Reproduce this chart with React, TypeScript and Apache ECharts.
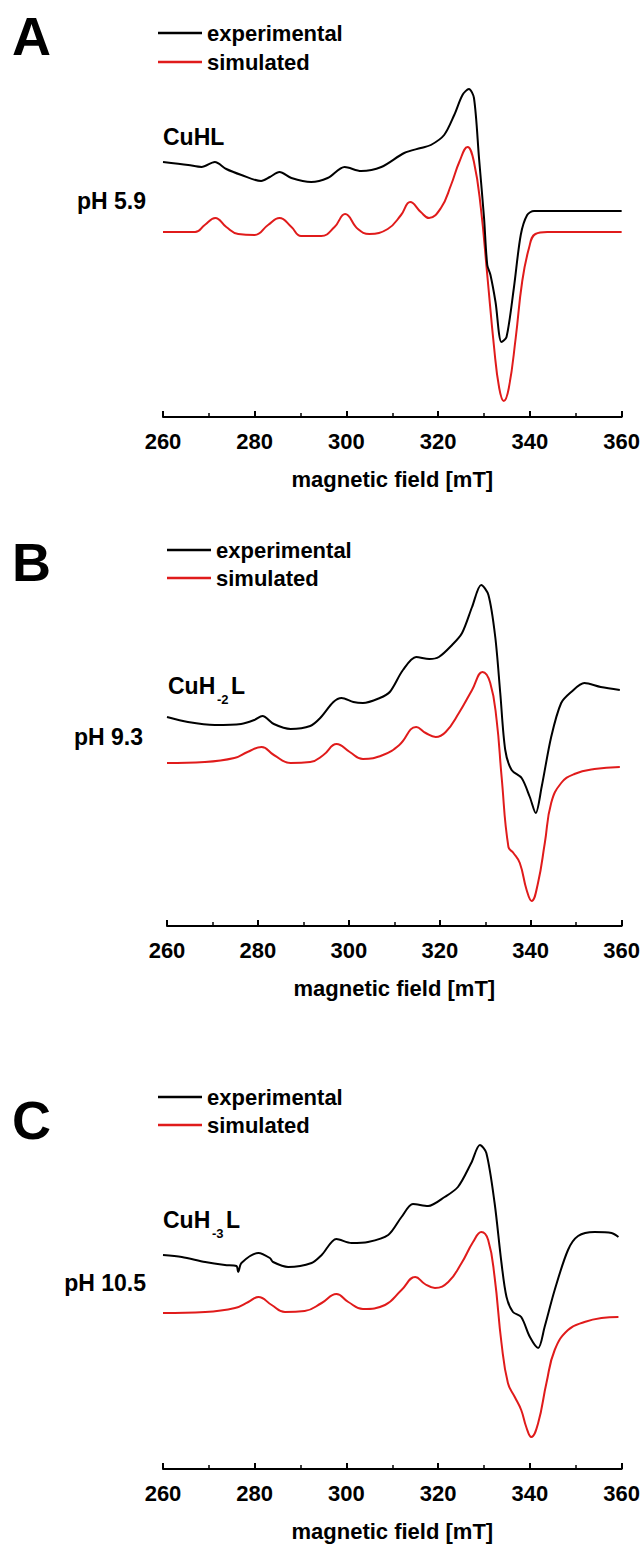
import React, { useEffect, useRef } from "react";
import * as echarts from "echarts";

// Magnetic field (mT) and intensity (a.u., offset)
const A_EXP_FIELD = [260, 265.5, 268.4, 271.3, 273.8, 277.1, 281.4, 283.3, 285.4, 288.0, 292.3, 295.9, 299.6, 303.2, 307.6, 312.6, 316.2, 318.4, 321.3, 323.5, 325.3, 326.7, 327.8, 328.9, 330.0, 330.7, 331.4, 332.5, 333.8, 334.9, 336.5, 338.0, 339.4, 340.9, 360];
const A_EXP_INT = [255, 252, 250, 255, 248, 242, 236, 240, 245, 239, 235, 239, 250, 246, 250, 264, 269, 272, 282, 302, 322, 328, 319, 259, 199, 152, 142, 115, 75, 80, 129, 182, 202, 206, 206];
const A_SIM_FIELD = [260, 267.0, 269.1, 271.4, 273.8, 276.4, 280.0, 282.9, 285.4, 288.0, 290.1, 294.5, 297.4, 299.7, 302.5, 305.0, 309.0, 311.9, 313.9, 316.2, 318.0, 320.6, 322.8, 324.6, 326.4, 327.8, 329.3, 330.7, 332.2, 333.3, 334.3, 335.4, 336.9, 338.3, 339.8, 341.2, 343.8, 360];
const A_SIM_INT = [185, 185, 192, 199, 190, 183, 182, 192, 199, 190, 181, 181, 190, 203, 188, 183, 188, 202, 215, 205, 199, 209, 232, 255, 270, 255, 209, 142, 69, 29, 16, 29, 79, 135, 169, 183, 185, 185];

const B_EXP_FIELD = [260, 264.6, 270.5, 276.3, 279.2, 281.0, 283.5, 287.2, 291.5, 293.7, 296.6, 298.4, 301.0, 303.1, 306.8, 309.0, 311.9, 314.8, 317.7, 319.8, 322.7, 324.9, 327.1, 329.1, 330.7, 332.2, 333.3, 334.4, 335.8, 338.0, 339.8, 341.1, 342.4, 344.5, 346.7, 348.9, 351.8, 355.4, 359.6];
const B_EXP_INT = [209, 204, 201, 202, 206, 210, 202, 197, 200, 208, 224, 228, 224, 223, 228, 234, 256, 269, 267, 269, 281, 293, 319, 341, 331, 289, 233, 176, 156, 148, 129, 113, 139, 189, 223, 234, 243, 239, 236];
const B_SIM_FIELD = [260, 268.3, 274.8, 277.7, 280.8, 283.5, 287.2, 291.5, 294.4, 297.3, 300.2, 303.1, 307.5, 311.1, 314.8, 316.9, 319.1, 321.3, 324.2, 327.1, 329.4, 331.1, 332.5, 333.6, 335.1, 336.2, 337.6, 339.1, 340.2, 341.6, 343.1, 344.5, 346.7, 349.6, 354.0, 359.6];
const B_SIM_INT = [163, 164, 168, 174, 179, 171, 163, 164, 171, 182, 174, 167, 171, 181, 199, 193, 189, 194, 213, 236, 254, 243, 206, 149, 79, 73, 63, 36, 25, 43, 83, 123, 143, 152, 157, 159];

const C_EXP_FIELD = [260, 264.1, 269.2, 273.5, 276.0, 276.4, 277.1, 280.8, 283.3, 284.0, 287.3, 292.4, 294.6, 297.8, 301.1, 304.7, 309.1, 312.0, 314.5, 317.8, 321.4, 324.3, 327.2, 329.1, 330.5, 332.3, 333.8, 334.9, 336.3, 338.1, 340.0, 341.8, 343.2, 345.4, 348.3, 350.5, 354.1, 357.8, 359.3];
const C_EXP_INT = [214, 212, 207, 204, 203, 197, 206, 216, 211, 207, 202, 206, 214, 230, 226, 227, 234, 252, 265, 263, 272, 282, 306, 324, 316, 266, 206, 172, 157, 152, 132, 121, 142, 179, 219, 233, 237, 236, 232];
const C_SIM_FIELD = [260, 269.2, 275.7, 278.6, 280.8, 283.7, 286.6, 290.9, 294.6, 297.8, 300.4, 303.6, 308.4, 312.0, 315.0, 317.1, 319.3, 322.2, 325.1, 327.6, 329.4, 330.9, 332.3, 333.8, 335.2, 336.7, 338.1, 339.2, 340.3, 341.8, 343.6, 345.4, 348.3, 351.9, 355.6, 359.3];
const C_SIM_INT = [156, 157, 161, 167, 172, 164, 157, 158, 166, 175, 167, 160, 164, 179, 192, 185, 181, 187, 206, 227, 237, 229, 192, 126, 86, 72, 59, 42, 32, 46, 86, 119, 139, 147, 151, 152];

const X_TICKS = [260, 280, 300, 320, 340, 360];
const PANEL_LETTERS = ["A", "B", "C"];
const SPECIES = [["CuHL", "", ""], ["CuH", "-2", "L"], ["CuH", "-3", "L"]];
const PH_LABELS = ["pH 5.9", "pH 9.3", "pH 10.5"];
const SERIES_NAMES = ["experimental", "simulated"];

const FONT = "'Liberation Sans', Arial, Helvetica, sans-serif";
const BLACK = "#000000";
const RED = "#e01b1b";

const zip = (xs: number[], ys: number[]) => xs.map((x, i) => [x, ys[i]]);

export default function App() {
  const ref = useRef<HTMLDivElement>(null);
  useEffect(() => {
    if (!ref.current) return;
    const chart = echarts.init(ref.current, null, { renderer: "svg" });

    const grids = [
      { left: 163, width: 460, top: 60, height: 357 },
      { left: 167, width: 459, top: 560, height: 366 },
      { left: 163, width: 459, top: 1100, height: 369 },
    ];
    const legendPos = [
      { left: 158, top: 22, gap: 7 },
      { left: 167, top: 539, gap: 6 },
      { left: 158, top: 1086, gap: 6 },
    ];
    const letterPos = [
      { x: 12, y: 36 },
      { x: 12, y: 562 },
      { x: 12, y: 1120 },
    ];
    const speciesPos = [
      { x: 163, y: 137, sub: 0, l: 0 },
      { x: 168, y: 686, sub: 217, l: 231 },
      { x: 163, y: 1220, sub: 212, l: 226 },
    ];
    const phPos = [
      { x: 146, y: 201 },
      { x: 143, y: 737 },
      { x: 146, y: 1283 },
    ];

    const datasets = [
      [zip(A_EXP_FIELD, A_EXP_INT), zip(A_SIM_FIELD, A_SIM_INT)],
      [zip(B_EXP_FIELD, B_EXP_INT), zip(B_SIM_FIELD, B_SIM_INT)],
      [zip(C_EXP_FIELD, C_EXP_INT), zip(C_SIM_FIELD, C_SIM_INT)],
    ];

    const series: any[] = [];
    datasets.forEach((pair, gi) => {
      series.push({
        name: SERIES_NAMES[0],
        type: "line",
        xAxisIndex: gi,
        yAxisIndex: gi,
        data: pair[0],
        showSymbol: false,
        smooth: 0.3,
        lineStyle: { color: BLACK, width: 2 },
        itemStyle: { color: BLACK },
        z: 3,
      });
      series.push({
        name: SERIES_NAMES[1],
        type: "line",
        xAxisIndex: gi,
        yAxisIndex: gi,
        data: pair[1],
        showSymbol: false,
        smooth: 0.45,
        lineStyle: { color: RED, width: 2 },
        itemStyle: { color: RED },
        z: 2,
      });
    });

    const textStyleBase = { fontFamily: FONT, fontWeight: "bold", fill: "#000" };
    const graphic: any[] = [];
    PANEL_LETTERS.forEach((t, i) => {
      graphic.push({
        type: "text",
        x: letterPos[i].x,
        y: letterPos[i].y,
        style: { ...textStyleBase, text: t, fontSize: 54, verticalAlign: "middle" },
      });
    });
    SPECIES.forEach((parts, i) => {
      const p = speciesPos[i];
      graphic.push({
        type: "text",
        x: p.x,
        y: p.y,
        style: { ...textStyleBase, text: parts[0], fontSize: 23, verticalAlign: "middle" },
      });
      if (parts[1]) {
        graphic.push({
          type: "text",
          x: p.sub,
          y: p.y + 13,
          style: { ...textStyleBase, text: parts[1], fontSize: 13, verticalAlign: "middle" },
        });
        graphic.push({
          type: "text",
          x: p.l,
          y: p.y,
          style: { ...textStyleBase, text: parts[2], fontSize: 23, verticalAlign: "middle" },
        });
      }
    });
    PH_LABELS.forEach((t, i) => {
      graphic.push({
        type: "text",
        x: phPos[i].x,
        y: phPos[i].y,
        style: { ...textStyleBase, text: t, fontSize: 23, align: "right", verticalAlign: "middle" },
      });
    });

    chart.setOption({
      animation: false,
      backgroundColor: "#ffffff",
      grid: grids.map((g) => ({ ...g, containLabel: false })),
      legend: legendPos.map((l) => ({
        left: l.left,
        top: l.top,
        orient: "vertical",
        padding: 0,
        itemGap: l.gap,
        icon: "rect",
        itemWidth: 44,
        itemHeight: 2.5,
        selectedMode: false,
        data: SERIES_NAMES,
        textStyle: { fontFamily: FONT, fontWeight: "bold", fontSize: 22, color: "#000" },
      })),
      xAxis: grids.map((_, gi) => ({
        type: "value",
        gridIndex: gi,
        min: X_TICKS[0],
        max: X_TICKS[X_TICKS.length - 1],
        interval: X_TICKS[1] - X_TICKS[0],
        name: "magnetic field [mT]",
        nameLocation: "middle",
        nameGap: 51,
        nameTextStyle: { fontFamily: FONT, fontWeight: "bold", fontSize: 22, color: "#000" },
        axisLine: { show: true, onZero: false, lineStyle: { color: "#000", width: 2 } },
        axisTick: { show: true, inside: true, length: 6, lineStyle: { color: "#000", width: 2 } },
        minorTick: { show: true, splitNumber: 2, length: 4, lineStyle: { color: "#000", width: 1.5 } },
        axisLabel: { fontFamily: FONT, fontWeight: "bold", fontSize: 22, color: "#000", margin: 13 },
        splitLine: { show: false },
      })),
      yAxis: grids.map((g, gi) => ({
        type: "value",
        gridIndex: gi,
        min: 0,
        max: g.height,
        show: false,
        splitLine: { show: false },
      })),
      series,
      graphic,
    });
    return () => chart.dispose();
  }, []);

  return (
    <div
      ref={ref}
      style={{ position: "absolute", left: 0, top: 0, width: 643, height: 1544, background: "#fff" }}
    />
  );
}
